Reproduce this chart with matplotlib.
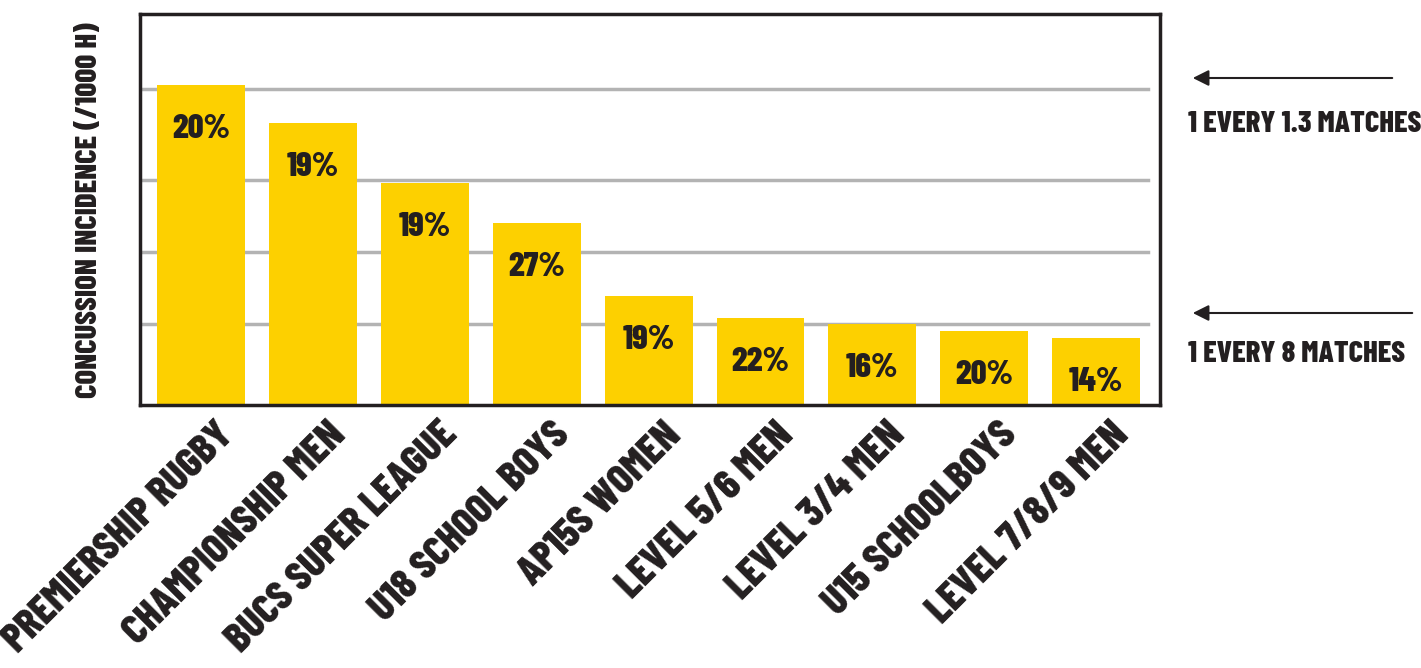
import numpy as np
import matplotlib.pyplot as plt
from matplotlib.transforms import ScaledTranslation

# leagues and concussion incidence (per 1000 h)
leagues = ['PREMIERSHIP RUGBY', 'CHAMPIONSHIP MEN', 'BUCS SUPER LEAGUE', 'U18 SCHOOL BOYS',
           'AP15S WOMEN', 'LEVEL 5/6 MEN', 'LEVEL 3/4 MEN', 'U15 SCHOOLBOYS', 'LEVEL 7/8/9 MEN']
incidence = [20.9, 18.4, 14.5, 11.9, 7.1, 5.7, 5.3, 4.8, 4.4]
pct_labels = ['20%', '19%', '19%', '27%', '19%', '22%', '16%', '20%', '14%']
grid_levels = [5.3, 10.0, 14.7, 20.6]

FONT = ['Barlow Condensed', 'DejaVu Sans']
dark = '#231f20'
yellow = '#fdd000'

fig = plt.figure(figsize=(14.21, 6.68), dpi=100)
ax = fig.add_axes([140 / 1421, 263 / 668, 1020 / 1421, 391 / 668])

x = np.arange(len(leagues))
for g in grid_levels:
    ax.axhline(g, xmin=0, xmax=0.988, color='#b3b3b3', lw=2.5, zorder=1)
bars = ax.bar(x, incidence, width=0.786, color=yellow, zorder=2)

for b, lab in zip(bars, pct_labels):
    ax.annotate(lab, (b.get_x() + b.get_width() / 2, b.get_height()),
                xytext=(0, -44), textcoords='offset pixels',
                ha='center', va='center', fontsize=25, fontweight=800,
                family=FONT, color=dark, zorder=3)

ax.set_xlim(-0.545, 8.57)
ax.set_ylim(0, 25.5)
ax.set_yticks([])
ax.set_xticks(x)
ax.set_xticklabels(leagues, rotation=45, ha='right', va='top', rotation_mode='anchor',
                   fontsize=30, fontweight=800, family=FONT, color=dark)
ax.tick_params(axis='x', length=0, pad=8)
shift = ScaledTranslation(14 / 100, 0, fig.dpi_scale_trans)
for t in ax.get_xticklabels():
    t.set_transform(t.get_transform() + shift)
for s in ax.spines.values():
    s.set_color(dark)
    s.set_linewidth(2.5)

fig.text(90 / 1421, 1 - 210 / 668, 'CONCUSSION INCIDENCE (/1000 H)', rotation=90,
         fontsize=22, fontweight=800, family=FONT, color=dark, ha='center', va='center')

# right-hand annotations
fig.text(1188 / 1421, 1 - 124 / 668, '1 EVERY 1.3 MATCHES', fontsize=22, fontweight=800,
         family=FONT, color=dark, ha='left', va='center')
fig.text(1188 / 1421, 1 - 355 / 668, '1 EVERY 8 MATCHES', fontsize=22, fontweight=800,
         family=FONT, color=dark, ha='left', va='center')
for y0, x0 in [(78, 1395), (313, 1415)]:
    fig.add_artist(plt.Annotation('', xy=(1190 / 1421, 1 - y0 / 668), xycoords='figure fraction',
                                  xytext=(x0 / 1421, 1 - y0 / 668), textcoords='figure fraction',
                                  arrowprops=dict(arrowstyle='-|>', color=dark, lw=1.5,
                                                  mutation_scale=24)))

fig.savefig('out.png', dpi=100, facecolor='white')
